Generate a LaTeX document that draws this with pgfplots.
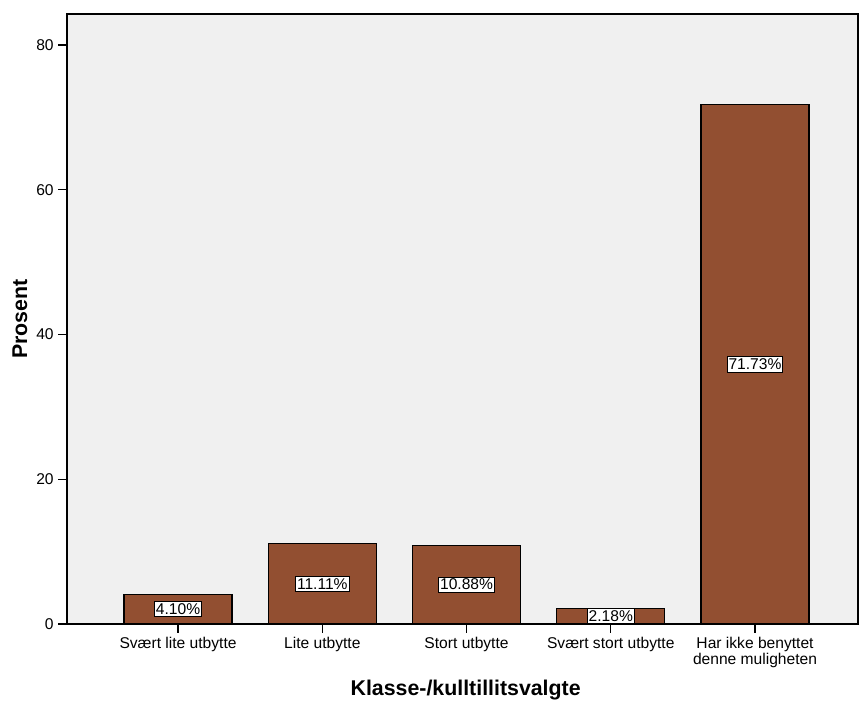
\documentclass[border=0pt]{standalone}
\usepackage{fontspec}
\setmainfont{Liberation Sans}
\usepackage{pgfplots}
\pgfplotsset{compat=1.18}
\definecolor{barfill}{RGB}{146,79,49}
\definecolor{bg}{RGB}{240,240,240}
\begin{document}
\begin{tikzpicture}
\begin{axis}[name=ax, scale only axis, width=593.25pt, height=457.5pt,
  xmin=-0.77, xmax=4.714, ymin=0, ymax=84.28,
  axis background/.style={fill=bg},
  axis line style={line width=1pt},
  xtick={0,1,2,3,4},
  xticklabels={Svært lite utbytte, Lite utbytte, Stort utbytte, Svært stort utbytte, {Har ikke benyttet\\denne muligheten}},
  ytick={0,20,40,60,80},
  tick align=outside, tick pos=left,
  major tick length=6.5pt,
  tick style={line width=1pt, black},
  /pgf/number format/assume math mode=true,
  tick label style={font=\fontsize{11.7}{12.5}\selectfont},
  xticklabel style={align=center, inner ysep=1pt, yshift=-2pt},
  every axis y label/.style={at={(axis description cs:-0.0594,0.5)}, rotate=90, anchor=center, font=\fontsize{16}{18}\selectfont\bfseries},
  every axis x label/.style={at={(axis description cs:0.504,-0.108)}, anchor=center, font=\fontsize{16}{18}\selectfont\bfseries},
  ylabel={Prosent},
  xlabel={Klasse-/kulltillitsvalgte},
]
\addplot[ybar, bar width=81pt, fill=barfill, draw=black, line width=0.9pt] coordinates {
  (0,4.10) (1,11.11) (2,10.88) (3,2.18) (4,71.73)};
\addplot[only marks, mark=none, point meta=explicit symbolic,
  nodes near coords={\pgfplotspointmeta\%},
  nodes near coords style={anchor=center, fill=white, draw=black, line width=0.6pt, inner xsep=1pt, inner ysep=1.5pt, font=\fontsize{11.7}{12}\selectfont}]
  table[meta=label] {
x y label
0 2.05 4.10
1 5.555 11.11
2 5.44 10.88
3 1.09 2.18
4 35.865 71.73
};
\end{axis}
\pgfresetboundingbox
\path (ax.south west) ++(-50.25pt,-58.5pt) coordinate (bl);
\path (ax.north east) ++(0.75pt,10.5pt) coordinate (tr);
\path[use as bounding box] (bl) rectangle (tr);
\end{tikzpicture}
\end{document}
